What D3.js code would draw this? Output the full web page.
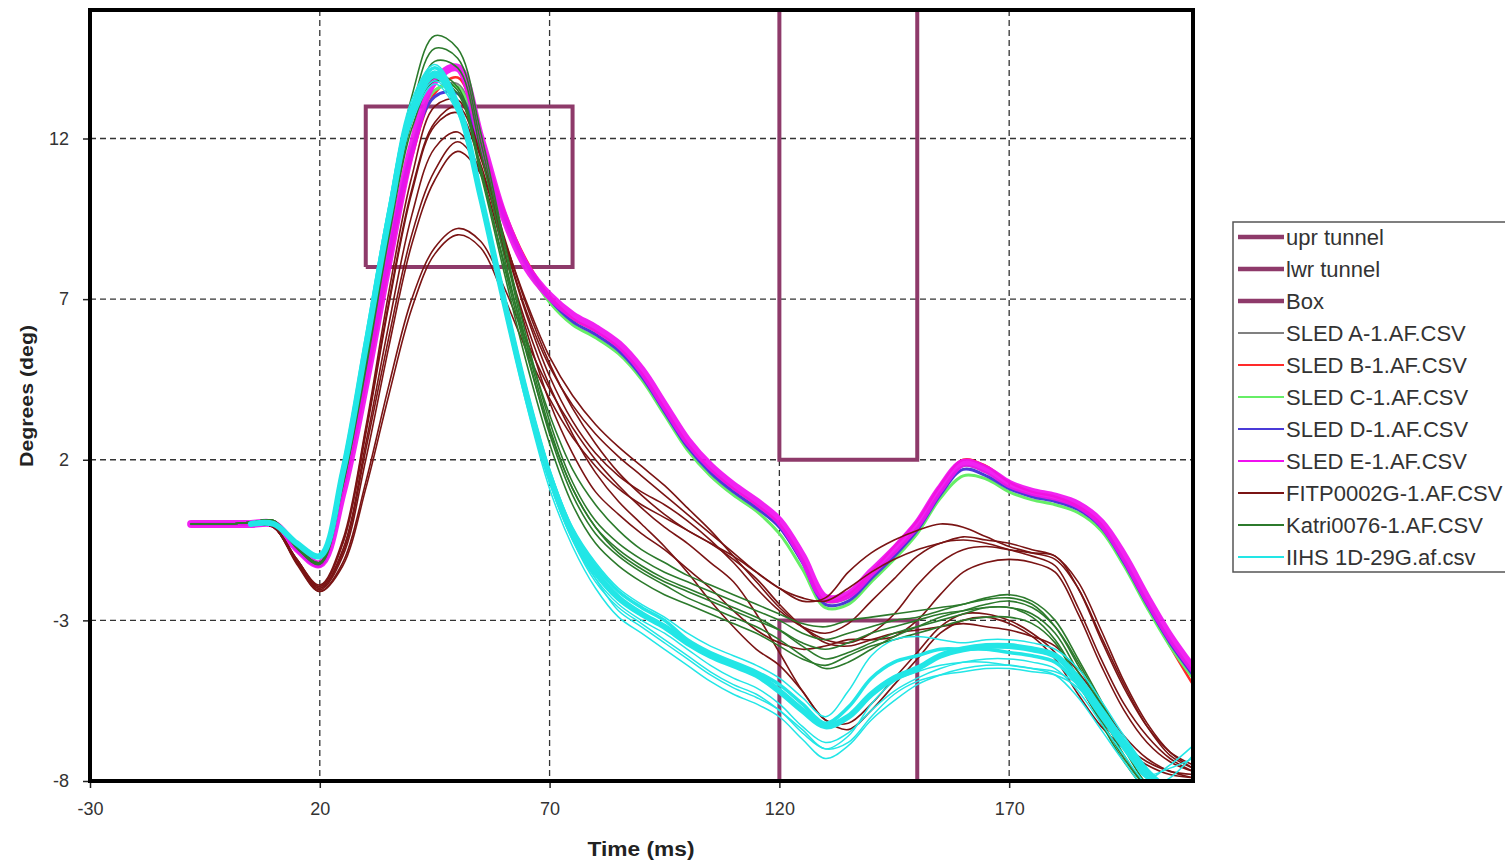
<!DOCTYPE html>
<html><head><meta charset="utf-8">
<script src="https://cdn.jsdelivr.net/npm/d3@7"></script>
<style>body{margin:0;background:#fff;} svg{display:block;}</style>
</head><body>
<svg id="c" width="1505" height="862"></svg>
<script>
// ---------- data ----------
const timeMs = [-8,0,5,10,15,20,25,30,35,40,45,50,55,60,65,70,75,80,85,90,95,100,105,110,115,120,125,130,135,140,145,150,155,160,165,170,175,180,185,190,195,200,205,210];
const xTicks = [-30,20,70,120,170];
const yTicks = [-8,-3,2,7,12];

const uprTunnelT = [120,120,150,150];
const uprTunnelD = [16,2,2,16];
const lwrTunnelT = [120,120,150,150];
const lwrTunnelD = [-8,-3,-3,-8];
const boxT = [30,30,75,75,30];
const boxD = [8,13,13,8,8];

const sledA = [0,0,0,0,-0.75,-1.25,1.1,4.5,8.3,11.6,13.5,13.7,11.8,9.6,8.1,7.0,6.3,5.9,5.4,4.6,3.5,2.4,1.6,1.0,0.5,-0.1,-1.2,-2.4,-2.3,-1.6,-0.9,-0.1,1.0,1.8,1.6,1.15,0.9,0.75,0.5,-0.05,-1.1,-2.4,-3.6,-4.6];
const sledB = [0,0,0,0,-0.7,-1.2,1.0,4.3,8.0,11.4,13.4,13.9,12.0,9.8,8.2,7.1,6.4,6.0,5.5,4.7,3.6,2.5,1.7,1.1,0.6,0.0,-1.1,-2.4,-2.2,-1.5,-0.7,0.1,1.2,2.0,1.8,1.3,1.0,0.85,0.55,0.0,-1.2,-2.5,-3.8,-5.0];
const sledC = [0,0,0,0.05,-0.7,-1.2,1.2,4.6,8.4,11.7,13.5,13.6,11.6,9.5,8.0,6.9,6.2,5.8,5.3,4.5,3.4,2.3,1.5,0.9,0.4,-0.3,-1.4,-2.6,-2.5,-1.8,-1.1,-0.3,0.8,1.5,1.4,1.0,0.75,0.6,0.35,-0.2,-1.3,-2.6,-3.8,-4.8];
const sledD = [0,0,0,0,-0.8,-1.3,1.1,4.6,8.4,11.6,13.3,13.4,11.7,9.6,8.1,7.0,6.3,5.9,5.4,4.6,3.5,2.4,1.6,1.0,0.5,-0.1,-1.2,-2.5,-2.4,-1.7,-1.0,-0.2,0.9,1.7,1.5,1.1,0.85,0.7,0.45,-0.1,-1.2,-2.5,-3.7,-4.7];
const sledE = [0,0,0,0,-0.75,-1.25,1.0,4.4,8.2,11.7,13.8,14.2,12.0,9.6,8.0,7.1,6.5,6.1,5.6,4.8,3.7,2.6,1.8,1.2,0.7,0.1,-1.0,-2.3,-2.2,-1.5,-0.8,0.0,1.1,1.9,1.7,1.25,1.0,0.85,0.6,0.05,-1.0,-2.3,-3.5,-4.5];

const fitp1 = [null,null,0,-0.1,-1.1,-1.9,-0.5,3.0,7.2,10.8,13.0,13.2,11.5,9.0,6.8,5.0,3.6,2.5,1.6,0.9,0.3,-0.2,-0.6,-1.0,-1.5,-2.0,-2.4,-2.3,-1.5,-0.9,-0.5,-0.2,0.0,-0.1,-0.4,-0.7,-0.9,-1.1,-2.0,-3.5,-5.0,-6.3,-7.2,-7.6];
const fitp2 = [null,null,0,-0.1,-1.2,-2.0,-0.9,2.3,5.8,9.0,11.0,11.9,11.0,8.8,6.5,4.6,3.2,2.2,1.5,1.0,0.6,0.1,-0.5,-1.2,-2.0,-2.7,-3.2,-3.4,-3.1,-2.4,-1.7,-1.0,-0.6,-0.5,-0.6,-0.8,-1.0,-1.3,-2.6,-4.2,-5.6,-6.6,-7.3,-7.7];
const fitp3 = [null,null,0,-0.1,-1.2,-2.05,-1.0,2.0,5.5,8.7,10.7,11.6,10.9,8.9,6.9,5.2,4.0,3.1,2.4,1.8,1.2,0.5,-0.2,-1.0,-1.8,-2.6,-3.2,-3.6,-3.7,-3.4,-2.8,-1.9,-1.2,-0.8,-0.7,-0.8,-0.9,-1.0,-2.0,-3.6,-5.1,-6.3,-7.1,-7.5];
const fitp4 = [null,null,0,-0.1,-1.2,-2.1,-1.2,1.3,4.3,7.0,8.6,9.2,8.8,7.4,5.7,4.2,3.0,2.0,1.2,0.5,-0.1,-0.6,-1.2,-1.8,-2.8,-4.0,-5.2,-6.1,-6.4,-5.8,-5.0,-4.2,-3.4,-3.0,-2.9,-3.1,-3.5,-4.2,-5.3,-6.3,-7.0,-7.5,-7.8,-7.9];
const fitp5 = [null,null,0,-0.1,-1.25,-2.1,-1.3,1.1,4.0,6.7,8.4,9.0,8.6,7.1,5.4,3.9,2.7,1.8,1.1,0.6,0.2,-0.2,-0.6,-1.1,-1.7,-2.5,-3.2,-3.7,-3.8,-3.6,-3.4,-3.3,-3.2,-3.1,-3.2,-3.3,-3.5,-3.8,-4.6,-5.6,-6.6,-7.3,-7.7,-7.9];
const fitp6 = [null,null,0,-0.1,-1.1,-1.95,-0.6,2.8,6.8,10.3,12.4,12.8,11.2,8.6,6.0,3.8,2.2,1.0,0.3,-0.3,-0.8,-1.4,-2.0,-2.7,-3.3,-3.7,-3.9,-3.8,-3.6,-3.6,-3.5,-3.0,-2.2,-1.5,-1.2,-1.1,-1.2,-1.5,-2.8,-4.4,-5.8,-6.8,-7.4,-7.7];
const fitp7 = [null,null,0,-0.1,-1.15,-2.0,-0.8,2.5,6.2,9.6,11.7,12.2,10.9,8.5,6.2,4.3,2.8,1.6,0.7,0.0,-0.7,-1.5,-2.4,-3.2,-3.9,-4.4,-5.2,-6.1,-6.2,-5.6,-4.8,-4.0,-3.2,-2.8,-2.8,-3.0,-3.4,-4.0,-5.0,-6.1,-6.9,-7.4,-7.7,-7.8];
const fitp8 = [null,null,0,-0.1,-1.1,-1.95,-0.6,2.9,6.9,10.4,12.5,13.0,11.4,8.9,6.6,4.9,3.7,2.8,2.1,1.5,0.9,0.3,-0.3,-0.9,-1.5,-2.0,-2.3,-2.4,-2.0,-1.5,-1.1,-0.8,-0.6,-0.4,-0.5,-0.6,-0.8,-1.0,-1.8,-3.3,-4.9,-6.2,-7.1,-7.6];

const katri1 = [0,0,0.05,0.1,-0.7,-1.2,1.4,5.2,9.5,13.3,15.2,14.8,12.2,8.9,5.8,3.2,1.3,0.1,-0.6,-1.1,-1.5,-1.8,-2.1,-2.4,-2.7,-3.0,-3.4,-3.6,-3.4,-3.2,-3.0,-2.9,-2.7,-2.5,-2.35,-2.3,-2.5,-3.2,-4.4,-5.7,-7.0,-8.1,-8.6,-8.8];
const katri2 = [0,0,0.05,0.1,-0.7,-1.2,1.3,5.0,9.2,12.9,14.8,14.5,11.9,8.7,5.6,3.0,1.1,-0.1,-0.8,-1.3,-1.7,-2.0,-2.3,-2.6,-2.9,-3.3,-3.8,-4.2,-4.0,-3.7,-3.4,-3.2,-3.0,-2.8,-2.6,-2.6,-2.8,-3.4,-4.6,-5.9,-7.2,-8.2,-8.7,-8.9];
const katri3 = [0,0,0.05,0.1,-0.75,-1.25,1.2,4.9,9.0,12.6,14.4,14.2,11.6,8.4,5.4,2.8,0.9,-0.3,-1.0,-1.5,-1.9,-2.3,-2.6,-2.9,-3.2,-3.6,-4.1,-4.5,-4.3,-3.9,-3.5,-3.2,-2.9,-2.7,-2.5,-2.4,-2.6,-3.2,-4.3,-5.6,-6.9,-7.9,-8.5,-8.8];
const katri4 = [0,0,0.05,0.1,-0.7,-1.2,1.3,5.0,9.1,12.5,14.0,13.6,11.1,8.1,5.3,2.9,1.1,-0.1,-0.9,-1.4,-1.8,-2.1,-2.4,-2.7,-3.0,-3.3,-3.7,-3.9,-3.7,-3.4,-3.2,-3.0,-2.8,-2.7,-2.6,-2.6,-2.9,-3.6,-4.8,-6.1,-7.3,-8.2,-8.6,-8.8];
const katri5 = [0,0,0.05,0.1,-0.7,-1.2,1.4,5.1,9.2,12.6,13.9,13.5,11.0,8.2,5.6,3.4,1.7,0.6,-0.2,-0.8,-1.2,-1.6,-1.9,-2.2,-2.5,-2.8,-3.1,-3.2,-3.0,-2.9,-2.8,-2.7,-2.6,-2.5,-2.3,-2.2,-2.4,-3.0,-4.2,-5.5,-6.8,-7.9,-8.5,-8.8];
const katri6 = [0,0,0.05,0.1,-0.75,-1.25,1.2,4.8,8.9,12.3,13.8,13.4,10.9,7.9,5.0,2.5,0.6,-0.6,-1.3,-1.8,-2.2,-2.5,-2.8,-3.1,-3.4,-3.8,-4.2,-4.4,-4.1,-3.8,-3.6,-3.4,-3.2,-3.0,-2.9,-2.9,-3.1,-3.7,-4.9,-6.2,-7.4,-8.3,-8.7,-8.9];

const iihs1 = [null,null,0,0,-0.6,-1.0,1.6,5.5,9.5,12.8,14.0,13.0,10.2,7.0,4.0,1.5,-0.3,-1.5,-2.3,-2.8,-3.2,-3.7,-4.1,-4.4,-4.7,-5.2,-5.8,-6.3,-6.0,-5.3,-4.8,-4.5,-4.1,-3.9,-3.8,-3.8,-3.9,-4.1,-4.8,-5.8,-6.8,-7.7,-8.3,-8.6];
const iihs2 = [null,null,0,0,-0.6,-1.0,1.8,5.8,9.9,13.2,14.3,13.2,10.3,7.0,3.9,1.3,-0.5,-1.7,-2.5,-3.0,-3.4,-3.9,-4.4,-4.8,-5.1,-5.6,-6.3,-6.8,-6.5,-5.8,-5.2,-4.8,-4.5,-4.3,-4.2,-4.2,-4.3,-4.5,-5.2,-6.2,-7.2,-8.1,-8.4,-8.2];
const iihs3 = [null,null,0,0,-0.6,-1.05,1.5,5.3,9.3,12.5,13.7,12.8,10.0,6.8,3.7,1.1,-0.7,-2.0,-2.9,-3.4,-3.9,-4.4,-4.9,-5.3,-5.6,-6.0,-6.7,-7.3,-6.9,-6.1,-5.5,-5.0,-4.7,-4.5,-4.4,-4.4,-4.5,-4.7,-5.4,-6.4,-7.4,-8.2,-7.9,-7.2];
const iihs4 = [null,null,0,0,-0.55,-0.95,1.7,5.6,9.6,12.9,14.1,13.1,10.4,7.2,4.2,1.7,-0.1,-1.2,-2.0,-2.5,-2.9,-3.4,-3.8,-4.1,-4.4,-4.8,-5.4,-6.0,-5.2,-4.1,-3.6,-3.5,-3.6,-3.7,-3.6,-3.6,-3.7,-3.9,-4.5,-5.5,-6.6,-7.6,-8.4,-8.8];
const iihs5 = [null,null,0,0,-0.6,-1.0,1.6,5.5,9.4,12.6,13.8,12.9,10.1,6.9,3.8,1.3,-0.5,-1.8,-2.6,-3.1,-3.6,-4.1,-4.6,-5.0,-5.3,-5.8,-6.4,-7.0,-6.6,-5.6,-4.9,-4.6,-4.4,-4.3,-4.3,-4.4,-4.5,-4.6,-5.0,-5.9,-6.9,-7.9,-7.5,-6.9];
const iihs6 = [null,null,0,0,-0.6,-1.0,1.7,5.7,9.7,13.0,14.2,13.1,10.2,7.1,4.1,1.6,-0.2,-1.3,-2.1,-2.6,-3.0,-3.6,-4.0,-4.3,-4.6,-5.0,-5.6,-6.2,-5.7,-4.8,-4.3,-4.1,-3.9,-3.9,-3.9,-4.0,-4.1,-4.3,-5.0,-6.0,-7.0,-7.9,-8.5,-8.8];
const iihs7 = [null,null,0,0,-0.6,-1.0,1.5,5.4,9.4,12.7,13.9,12.9,10.0,6.9,3.9,1.4,-0.4,-1.7,-2.7,-3.2,-3.7,-4.2,-4.7,-5.1,-5.4,-5.8,-6.5,-7.0,-6.8,-6.0,-5.3,-4.9,-4.7,-4.6,-4.5,-4.5,-4.6,-4.7,-5.1,-6.0,-7.0,-7.8,-7.6,-7.3];

const legendLabels = ["upr tunnel","lwr tunnel","Box","SLED A-1.AF.CSV","SLED B-1.AF.CSV","SLED C-1.AF.CSV","SLED D-1.AF.CSV","SLED E-1.AF.CSV","FITP0002G-1.AF.CSV","Katri0076-1.AF.CSV","IIHS 1D-29G.af.csv"];

// ---------- styles ----------
const C = {
  tunnel: "#8e3a6a", sledA: "#808080", sledB: "#ff2a2a", sledC: "#66ee66",
  sledD: "#4a3ad8", sledE: "#f010f0", fitp: "#7a1414", katri: "#2c7a2c", iihs: "#22e6e6"
};

const svg = d3.select("#c");
const x = d3.scaleLinear().domain([-30,210]).range([90,1193]);
const y = d3.scaleLinear().domain([-8,16]).range([781,10]);
const X0 = x(-30), X1 = x(210), Y0 = y(16), Y1 = y(-8);

svg.append("defs").append("clipPath").attr("id","clip")
  .append("rect").attr("x",X0).attr("y",Y0).attr("width",X1-X0).attr("height",Y1-Y0);

// grid
const grid = svg.append("g").attr("stroke","#333").attr("stroke-width",1.3).attr("stroke-dasharray","6,4");
grid.selectAll("line.v").data(xTicks.slice(1)).join("line").attr("class","v")
  .attr("x1",d=>x(d)).attr("x2",d=>x(d)).attr("y1",Y0).attr("y2",Y1);
grid.selectAll("line.h").data(yTicks.slice(1)).join("line").attr("class","h")
  .attr("y1",d=>y(d)).attr("y2",d=>y(d)).attr("x1",X0).attr("x2",X1);

// axes
const font = "'Liberation Sans', Arial, sans-serif";
const ax = svg.append("g").attr("transform",`translate(0,${Y1})`)
  .call(d3.axisBottom(x).tickValues(xTicks).tickSize(7).tickPadding(14).tickFormat(d=>String(d)));
const ay = svg.append("g").attr("transform",`translate(${X0},0)`)
  .call(d3.axisLeft(y).tickValues(yTicks).tickSize(7).tickPadding(14).tickFormat(d=>String(d)));
[ax,ay].forEach(g=>{
  g.select(".domain").remove();
  g.selectAll(".tick line").attr("stroke","#222").attr("stroke-width",1.5);
  g.selectAll(".tick text").attr("fill","#333").style("font-family",font).style("font-size","18px");
});

const plot = svg.append("g").attr("clip-path","url(#clip)");
const line = d3.line().defined(d=>d[1]!=null).x(d=>x(d[0])).y(d=>y(d[1])).curve(d3.curveCatmullRom.alpha(0.5));
const pts = (ts,vs)=>ts.map((t,i)=>[t, vs[i]===undefined?null:vs[i]]);

// tunnels and box
const tunnelLine = d3.line().x(d=>x(d[0])).y(d=>y(d[1]));
[[uprTunnelT,uprTunnelD],[lwrTunnelT,lwrTunnelD],[boxT,boxD]].forEach(([ts,ds])=>{
  plot.append("path").attr("d",tunnelLine(pts(ts,ds))).attr("fill","none")
    .attr("stroke",C.tunnel).attr("stroke-width",4).attr("stroke-linejoin","miter");
});

const series = [
  {v:sledA,c:C.sledA,w:2},{v:sledB,c:C.sledB,w:2.5},{v:sledC,c:C.sledC,w:3},{v:sledD,c:C.sledD,w:3},{v:sledE,c:C.sledE,w:8,o:0.92},
  {v:fitp1,c:C.fitp,w:1.6},{v:fitp2,c:C.fitp,w:1.6},{v:fitp3,c:C.fitp,w:1.6},{v:fitp4,c:C.fitp,w:1.6},
  {v:fitp5,c:C.fitp,w:1.6},{v:fitp6,c:C.fitp,w:1.6},{v:fitp7,c:C.fitp,w:1.6},{v:fitp8,c:C.fitp,w:1.6},
  {v:katri1,c:C.katri,w:1.6},{v:katri2,c:C.katri,w:1.6},{v:katri3,c:C.katri,w:1.6},
  {v:katri4,c:C.katri,w:1.6},{v:katri5,c:C.katri,w:1.6},{v:katri6,c:C.katri,w:1.6},
  {v:iihs1,c:C.iihs,w:6},{v:iihs2,c:C.iihs,w:1.5},{v:iihs3,c:C.iihs,w:1.5},{v:iihs4,c:C.iihs,w:1.5},
  {v:iihs5,c:C.iihs,w:1.5},{v:iihs6,c:C.iihs,w:3.5},{v:iihs7,c:C.iihs,w:1.5}
];
series.forEach(s=>{
  if (s.v.length !== timeMs.length) console.error("length mismatch", s.v.length);
  plot.append("path").attr("d",line(pts(timeMs,s.v))).attr("fill","none")
    .attr("stroke",s.c).attr("stroke-width",s.w).attr("stroke-opacity",s.o||1)
    .attr("stroke-linejoin","round").attr("stroke-linecap","round");
});

// border
svg.append("rect").attr("x",X0).attr("y",Y0).attr("width",X1-X0).attr("height",Y1-Y0)
  .attr("fill","none").attr("stroke","#000").attr("stroke-width",4);

// axis titles
svg.append("text").attr("x",641).attr("y",856).attr("text-anchor","middle")
  .style("font-family",font).style("font-size","20px").style("font-weight","bold").attr("fill","#222")
  .attr("textLength",107).attr("lengthAdjust","spacingAndGlyphs").text("Time (ms)");
svg.append("text").attr("transform","translate(33,396) rotate(-90)").attr("text-anchor","middle")
  .style("font-family",font).style("font-size","19px").style("font-weight","bold").attr("fill","#222")
  .attr("textLength",142).attr("lengthAdjust","spacingAndGlyphs").text("Degrees (deg)");

// legend
const legendColors = [C.tunnel,C.tunnel,C.tunnel,C.sledA,C.sledB,C.sledC,C.sledD,C.sledE,C.fitp,C.katri,C.iihs];
const legendWidths = [4.5,4.5,4.5,1.8,1.8,1.8,1.8,1.8,1.8,1.8,1.8];
const lg = svg.append("g").attr("transform","translate(1233,222)");
lg.append("rect").attr("x",0).attr("y",0).attr("width",300).attr("height",350)
  .attr("fill","#fff").attr("stroke","#555").attr("stroke-width",1.5);
const ly = d3.scalePoint().domain(legendLabels).range([15,335]);
const row = lg.selectAll("g.row").data(legendLabels).join("g").attr("class","row")
  .attr("transform",d=>`translate(0,${ly(d)})`);
row.append("line").attr("x1",5).attr("x2",51).attr("y1",0).attr("y2",0)
  .attr("stroke",(d,i)=>legendColors[i]).attr("stroke-width",(d,i)=>legendWidths[i]);
row.append("text").attr("x",53).attr("y",7.5).text(d=>d)
  .style("font-family",font).style("font-size","22px").attr("fill","#333");
</script>
</body></html>
